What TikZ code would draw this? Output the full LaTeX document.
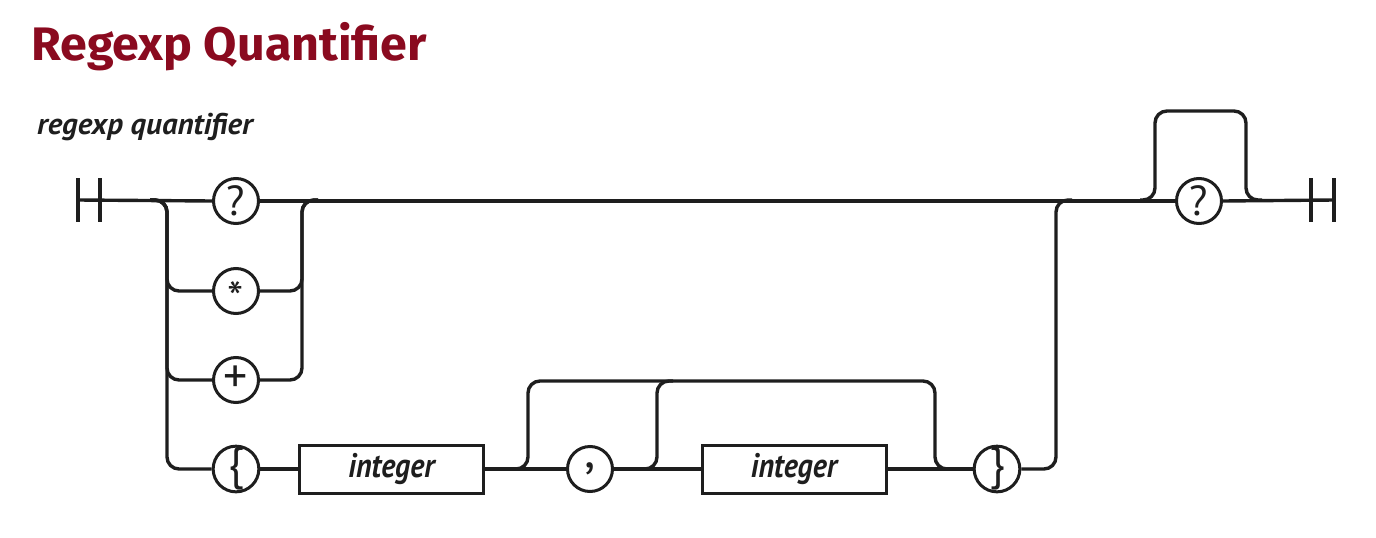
\documentclass[tikz,border=0pt]{standalone}
\usepackage{fontspec}
\setmainfont{Fira Sans}
\newfontfamily\titlefont{Fira Sans}
\newfontfamily\diafont{PT Sans}
\definecolor{titlered}{HTML}{8A0A1F}
\definecolor{ink}{HTML}{1E1E1E}
\begin{document}
\begin{tikzpicture}[x=1pt,y=-1pt,
  rail/.style={line width=3.4pt, draw=ink, rounded corners=12pt},
  term/.style={circle, draw=ink, fill=white, line width=3pt, minimum size=45pt, inner sep=0pt, font=\diafont\fontsize{42}{42}\selectfont, text=ink},
  nonterm/.style={rectangle, draw=ink, fill=white, line width=3pt, minimum width=184pt, minimum height=48pt, inner sep=0pt, font=\diafont\itshape\bfseries\fontsize{34}{34}\selectfont, text=ink},
  bar/.style={line width=3.4pt, draw=ink}]
\useasboundingbox (0,0) rectangle (1376,538);
% titles
\node[anchor=base west, inner sep=0pt, text=titlered, font=\titlefont\bfseries\fontsize{47}{47}\selectfont] (title) at (31,60) {\scalebox{1.03}[1]{Regexp Quantifier}};
\node[anchor=base west, inner sep=0pt, text=ink, font=\diafont\itshape\bfseries\fontsize{30}{30}\selectfont] (label) at (37,134) {\scalebox{1.03}[1]{regexp quantifier}};
% terminals
\node[term] (q1) at (236,201) {?};
\node[term, font=\diafont\fontsize{46}{46}\selectfont] (star) at (236,291) {\smash{\raisebox{-0.5em}{*}}};
\node[term, font=\diafont\fontsize{48}{48}\selectfont] (plus) at (236,380) {\raisebox{0.03em}{+}};
\node[term, font=\diafont\fontsize{46}{46}\selectfont] (lb) at (236,469) {\raisebox{0.05em}{\{}};
\node[nonterm] (int1) at (391.5,469) {\scalebox{0.88}[1]{integer}};
\node[term, font=\diafont\fontsize{50}{50}\selectfont] (comma) at (590,469) {\raisebox{0.12em}{,}};
\node[nonterm] (int2) at (794,469) {\scalebox{0.88}[1]{integer}};
\node[term, font=\diafont\fontsize{46}{46}\selectfont] (rb) at (997,469) {\raisebox{0.05em}{\}}};
\node[term] (q2) at (1199,201) {?};
% coordinates
\coordinate (s1) at (78,200);
\coordinate (s2) at (100,200);
\coordinate (e1) at (1311,200);
\coordinate (e2) at (1334,200);
\coordinate (Lin) at (150,200);
\coordinate (Lx) at (167,200);
\coordinate (Rx) at (302,200);
\coordinate (Rout) at (318,200);
\coordinate (RRx) at (1056,200);
\coordinate (RRout) at (1072,200);
\coordinate (A0) at (512,469);
\coordinate (A1) at (528,381);
\coordinate (A2) at (935,469);
\coordinate (A3) at (951,469);
\coordinate (B0) at (642,469);
\coordinate (B1) at (657,381);
\coordinate (B2) at (673,381);
\coordinate (C0) at (1140,200);
\coordinate (C1) at (1155,111);
\coordinate (C2) at (1246,200);
\coordinate (C3) at (1262,200);
% bars
\foreach \b in {s1,s2,e1,e2} \draw[bar] (\b) ++(0,-22) -- ++(0,44);
% main line
\draw[rail] (s1) -- (q1.west);
\draw[rail] (q1.east) -- (q2.west);
\draw[rail] (q2.east) -- (e2);
% left split
\draw[rail] (Lin) -| (Lx |- star) -- (star.west);
\draw[rail] (Lin) -| (Lx |- plus) -- (plus.west);
\draw[rail] (Lin) -| (Lx |- lb) -- (lb.west);
% right join
\draw[rail] (star.east) -| (Rx) -- (Rout);
\draw[rail] (plus.east) -| (Rx) -- (Rout);
% brace row
\draw[rail] (lb.east) -- (int1.west);
\draw[rail] (int1.east) -- (comma.west);
\draw[rail] (comma.east) -- (int2.west);
\draw[rail] (int2.east) -- (rb.west);
\draw[rail] (rb.east) -| (RRx) -- (RRout);
% loops
\draw[rail] (A0) -| (A1) -| (A2) -- (A3);
\draw[rail] (B0) -| (B1) -- (B2);
\draw[rail] (C0) -| (C1) -| (C2) -- (C3);
\end{tikzpicture}
\end{document}
